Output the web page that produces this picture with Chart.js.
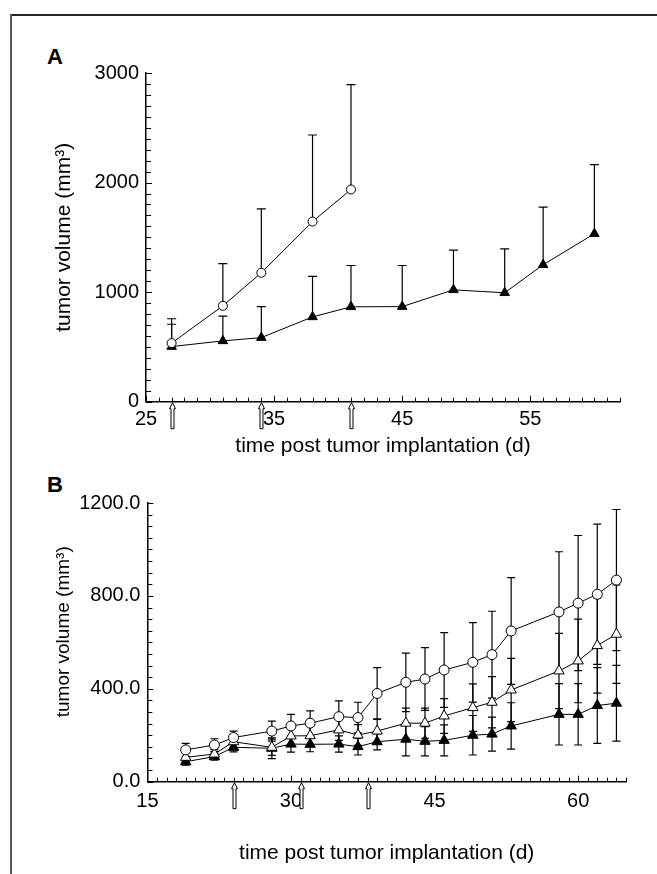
<!DOCTYPE html>
<html><head><meta charset="utf-8">
<script src="https://cdn.jsdelivr.net/npm/chart.js@4"></script>
<style>
html,body{margin:0;padding:0;background:#fff;}
body{width:657px;height:874px;position:relative;overflow:hidden;}
#frameTop{position:absolute;left:10px;top:14px;width:647px;height:0;border-top:2px solid #222;}
#frameLeft{position:absolute;left:10px;top:14px;width:0;height:860px;border-left:2px solid #555;}
#wa{position:absolute;left:0;top:0;}
#wb{position:absolute;left:0;top:470px;}
.lbl{position:absolute;font:bold 22px "Liberation Sans",Arial,sans-serif;color:#000;line-height:22px;}
</style></head>
<body>
<div id="frameTop"></div><div id="frameLeft"></div>
<div class="lbl" style="left:47px;top:46px;">A</div>
<div class="lbl" style="left:47px;top:474px;">B</div>
<canvas id="wa" width="657" height="470"></canvas>
<canvas id="wb" width="657" height="404"></canvas>
<script>
// ---------- Panel A data ----------
const daysA1 = [27, 31, 34, 38, 41];
const volA1  = [535, 875, 1177, 1644, 1937];
const errA1  = [222, 385, 583, 790, 957];
const daysA2 = [27, 31, 34, 38, 41, 45, 49, 53, 56, 60];
const volA2  = [503, 555, 585, 774, 866, 868, 1021, 994, 1250, 1533];
const errA2  = [204, 226, 283, 369, 377, 375, 362, 401, 525, 630];
const arrowsA = [27, 34, 41];
const xLabelsA = [25, 35, 45, 55];
const yLabelsA = [0, 1000, 2000, 3000];

// ---------- Panel B data ----------
const daysB   = [19, 22, 24, 28, 30, 32, 35, 37, 39, 42, 44, 46, 49, 51, 53, 58, 60, 62, 64];
const circB   = [137, 158, 190, 218, 240, 252, 280, 276, 380, 428, 442, 481, 514, 547, 649, 731, 769, 807, 868];
const circErrB= [28, 27, 28, 43, 50, 53, 68, 66, 111, 126, 135, 161, 171, 187, 230, 259, 291, 302, 304];
const openB   = [105, 119, 172, 148, 197, 198, 223, 201, 218, 252, 252, 283, 319, 342, 395, 477, 520, 586, 635];
const openErrB= [20, 20, 25, 35, 40, 40, 45, 45, 51, 65, 65, 75, 102, 110, 136, 162, 180, 205, 212];
const fillB   = [86, 108, 148, 144, 162, 161, 162, 151, 172, 183, 174, 178, 200, 205, 240, 290, 290, 328, 338];
const fillErrB= [15, 15, 20, 45, 35, 32, 35, 36, 35, 72, 63, 67, 85, 73, 100, 132, 132, 163, 163];
const arrowsB = [24, 31, 38];
const xLabelsB = [15, 30, 45, 60];
const yLabelsB = [0, 400, 800, 1200];

const FONT = '"Liberation Sans", Arial, sans-serif';
const pts = (xs, ys) => xs.map((x, i) => ({x, y: ys[i]}));

const deco = {
  id: 'deco',
  beforeDatasetsDraw(chart) {
    const ctx = chart.ctx, xs = chart.scales.x, ys = chart.scales.y;
    ctx.save();
    ctx.strokeStyle = '#000'; ctx.lineWidth = 1.2;
    chart.data.datasets.forEach(ds => {
      if (!ds.errors) return;
      const cap = ds.capW / 2;
      ds.data.forEach((p, i) => {
        const e = ds.errors[i];
        const px = xs.getPixelForValue(p.x);
        const py = ys.getPixelForValue(p.y);
        const up = ys.getPixelForValue(p.y + e);
        ctx.beginPath();
        ctx.moveTo(px, py); ctx.lineTo(px, up);
        ctx.moveTo(px - cap, up); ctx.lineTo(px + cap, up);
        if (ds.errBoth) {
          const dn = ys.getPixelForValue(p.y - e);
          ctx.moveTo(px, py); ctx.lineTo(px, dn);
          ctx.moveTo(px - cap, dn); ctx.lineTo(px + cap, dn);
        }
        ctx.stroke();
      });
    });
    ctx.restore();
  },
  afterDraw(chart, args, opts) {
    const ctx = chart.ctx, xs = chart.scales.x, ys = chart.scales.y;
    const a = chart.chartArea;
    ctx.save();
    ctx.strokeStyle = '#000'; ctx.lineWidth = 1;
    ys.ticks.forEach(t => {
      const p = Math.round(ys.getPixelForValue(t.value)) + 0.5;
      const major = opts.yMajor.includes(t.value);
      ctx.beginPath(); ctx.moveTo(a.left, p); ctx.lineTo(a.left + (major ? 6 : 5), p); ctx.stroke();
    });
    xs.ticks.forEach(t => {
      const p = Math.round(xs.getPixelForValue(t.value)) + 0.5;
      const major = opts.xMajor.includes(t.value);
      ctx.beginPath(); ctx.moveTo(p, a.bottom); ctx.lineTo(p, a.bottom - (major ? 6 : 4)); ctx.stroke();
    });
    ctx.fillStyle = '#fff'; ctx.lineWidth = 1;
    opts.arrows.forEach(d => {
      const p = Math.round(xs.getPixelForValue(d)) + 0.5;
      const y0 = a.bottom + 1;
      ctx.beginPath();
      ctx.moveTo(p, y0);
      ctx.lineTo(p + 3, y0 + 6);
      ctx.lineTo(p + 1.5, y0 + 6);
      ctx.lineTo(p + 1.5, y0 + 26);
      ctx.lineTo(p - 1.5, y0 + 26);
      ctx.lineTo(p - 1.5, y0 + 6);
      ctx.lineTo(p - 3, y0 + 6);
      ctx.closePath();
      ctx.fill(); ctx.stroke();
    });
    ctx.restore();
  }
};

function makeChart(id, cfg) {
  return new Chart(document.getElementById(id), {
    type: 'line',
    data: {datasets: cfg.datasets},
    options: {
      responsive: false, animation: false, devicePixelRatio: 1,
      layout: {padding: cfg.padding},
      plugins: {legend: {display: false}, tooltip: {enabled: false},
        deco: {arrows: cfg.arrows, xMajor: cfg.xLabels, yMajor: cfg.yLabels}},
      elements: {line: {tension: 0}},
      scales: {
        x: {
          type: 'linear', min: cfg.xMin, max: cfg.xMax,
          grid: {display: false, drawTicks: false}, border: {display: true, color: '#000', width: 1.5},
          ticks: {stepSize: 1, autoSkip: false, maxRotation: 0, padding: cfg.xPad, color: '#000',
            font: {family: FONT, size: 20},
            callback: v => cfg.xLabels.includes(v) ? String(v) : ''},
          title: {display: true, text: 'time post tumor implantation (d)', color: '#000',
            font: {family: FONT, size: 21}, padding: {top: 0, bottom: cfg.xTitlePad}},
          afterFit: s => { s.height = cfg.xH; }
        },
        y: {
          type: 'linear', min: 0, max: cfg.yMax,
          grid: {display: false, drawTicks: false}, border: {display: true, color: '#000', width: 1.5},
          ticks: {stepSize: cfg.yStep, autoSkip: false, padding: 7, color: '#000',
            font: {family: FONT, size: 20},
            callback: v => cfg.yLabels.includes(v) ? cfg.yFmt(v) : ''},
          title: {display: true, text: cfg.yTitle, color: '#000',
            font: {family: FONT, size: cfg.yTitleSize}, padding: {top: cfg.yTitlePad, bottom: 0}},
          afterFit: s => { s.width = cfg.yW; }
        }
      }
    },
    plugins: [deco]
  });
}

const lineBase = {borderColor: '#000', borderWidth: 1, pointBorderColor: '#000', pointBorderWidth: 1, clip: false};

makeChart('wa', {
  padding: {left: 0, right: 37, top: 73, bottom: 0},
  xMin: 25, xMax: 62, xLabels: xLabelsA, xPad: 6, xH: 68.3, xTitlePad: 11.4,
  yMax: 3000, yStep: 100, yLabels: yLabelsA, yFmt: v => String(v), yW: 146,
  yTitle: 'tumor volume (mm³)', yTitleSize: 21, yTitlePad: 51.4,
  arrows: arrowsA,
  datasets: [
    Object.assign({}, lineBase, {data: pts(daysA1, volA1), errors: errA1, capW: 9, errBoth: false,
      pointStyle: 'circle', pointRadius: 4.5, pointBackgroundColor: '#fff'}),
    Object.assign({}, lineBase, {data: pts(daysA2, volA2), errors: errA2, capW: 9, errBoth: false,
      pointStyle: 'triangle', pointRadius: 5.5, pointBackgroundColor: '#000'})
  ]
});

makeChart('wb', {
  padding: {left: 0, right: 31, top: 33, bottom: 0},
  xMin: 15, xMax: 65, xLabels: xLabelsB, xPad: 8, xH: 92.3, xTitlePad: 8.4,
  yMax: 1200, yStep: 50, yLabels: yLabelsB, yFmt: v => v.toFixed(1), yW: 147.4,
  yTitle: '    tumor volume (mm³)', yTitleSize: 19, yTitlePad: 52.6,
  arrows: arrowsB,
  datasets: [
    Object.assign({}, lineBase, {data: pts(daysB, circB), errors: circErrB, capW: 8, errBoth: true,
      pointStyle: 'circle', pointRadius: 5, pointBackgroundColor: '#fff'}),
    Object.assign({}, lineBase, {data: pts(daysB, openB), errors: openErrB, capW: 8, errBoth: true,
      pointStyle: 'triangle', pointRadius: 6, pointBackgroundColor: '#fff'}),
    Object.assign({}, lineBase, {data: pts(daysB, fillB), errors: fillErrB, capW: 8, errBoth: true,
      pointStyle: 'triangle', pointRadius: 6, pointBackgroundColor: '#000'})
  ]
});
</script>
</body></html>
